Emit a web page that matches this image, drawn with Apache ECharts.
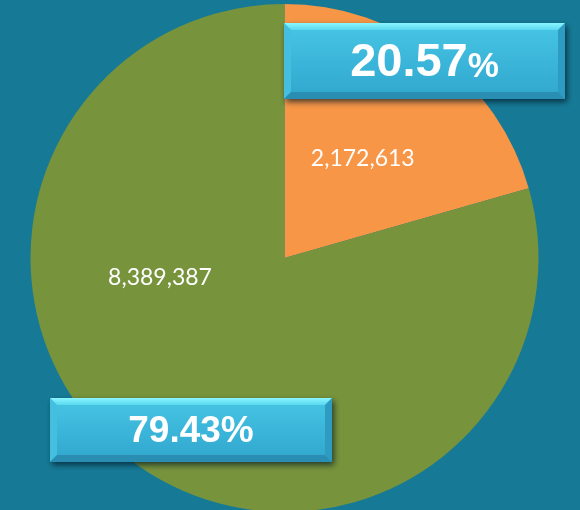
<!DOCTYPE html>
<html>
<head>
<meta charset="utf-8">
<script src="https://cdn.jsdelivr.net/npm/echarts@6/dist/echarts.min.js"></script>
<style>
  html, body { margin: 0; padding: 0; background: #167a96; }
  #chart { width: 580px; height: 510px; }
</style>
</head>
<body>
<div id="chart"></div>
<script>
// data
var names = ['A', 'B'];
var values = [2172613, 8389387];
var colors = ['#f79646', '#77933c'];

var total = values.reduce(function (a, b) { return a + b; }, 0);
var pct = values.map(function (v) { return (v * 100 / total).toFixed(2); });

var chart = echarts.init(document.getElementById('chart'));

// bevelled label box
function box(x, y, w, h, text) {
  var b = 7;
  var kids = [
    { type: 'rect', shape: { x: 0, y: 0, width: w, height: h },
      style: {
        fill: new echarts.graphic.LinearGradient(0, 0, 0, 1, [
          { offset: 0, color: '#48c6e4' },
          { offset: 0.5, color: '#3bb6da' },
          { offset: 1, color: '#31a6cc' }
        ]),
        shadowBlur: 6, shadowOffsetX: 2, shadowOffsetY: 3,
        shadowColor: 'rgba(0,20,35,0.7)'
      } },
    { type: 'polygon', shape: { points: [[0, 0], [w, 0], [w - b, b], [b, b]] },
      style: { fill: new echarts.graphic.LinearGradient(0, 0, 0, 1, [
        { offset: 0, color: '#8af6ff' },
        { offset: 1, color: '#5ad8ef' }
      ]) } },
    { type: 'polygon', shape: { points: [[0, 0], [b, b], [b, h - b], [0, h]] },
      style: { fill: '#45bfdf' } },
    { type: 'polygon', shape: { points: [[w, 0], [w, h], [w - b, h - b], [w - b, b]] },
      style: { fill: '#2e9cc2' } },
    { type: 'polygon', shape: { points: [[0, h], [b, h - b], [w - b, h - b], [w, h]] },
      style: { fill: '#2a8db2' } },
    { type: 'text', x: w / 2, y: h / 2 + 2, style: text }
  ];
  kids.forEach(function (k, i) { k.z = 100 + i; });
  return { type: 'group', x: x, y: y, z: 100, children: kids };
}

var option = {
  backgroundColor: '#167a96',
  animation: false,
  series: [{
    type: 'pie',
    center: [284.5, 258],
    radius: 254,
    startAngle: 90,
    clockwise: true,
    silent: true,
    z: 1,
    data: names.map(function (n, i) {
      return { name: n, value: values[i], itemStyle: { color: colors[i] } };
    }),
    label: {
      show: true,
      position: 'inside',
      color: '#fff',
      fontFamily: 'Lato',
      fontSize: 23,
      formatter: function (p) { return p.value.toLocaleString('en-US'); }
    },
    labelLayout: function (p) {
      if (p.dataIndex === 1) return { x: 160, y: 278 };
      return { dy: 4 };
    },
    labelLine: { show: false }
  }],
  graphic: [
    box(284, 23, 281, 76, {
      text: '{a|' + pct[0] + '}{b|%}',
      align: 'center', verticalAlign: 'middle',
      rich: {
        a: { fontFamily: 'Liberation Sans', fontWeight: 'bold', fontSize: 47, fill: '#fff', color: '#fff' },
        b: { fontFamily: 'Liberation Sans', fontWeight: 'bold', fontSize: 35, fill: '#fff', color: '#fff', padding: [8, 0, 0, 0] }
      }
    }),
    box(50, 398, 282, 64, {
      text: pct[1] + '%',
      align: 'center', verticalAlign: 'middle',
      fontFamily: 'Liberation Sans', fontWeight: 'bold', fontSize: 37, fill: '#fff'
    })
  ]
};

chart.setOption(option);
</script>
</body>
</html>
